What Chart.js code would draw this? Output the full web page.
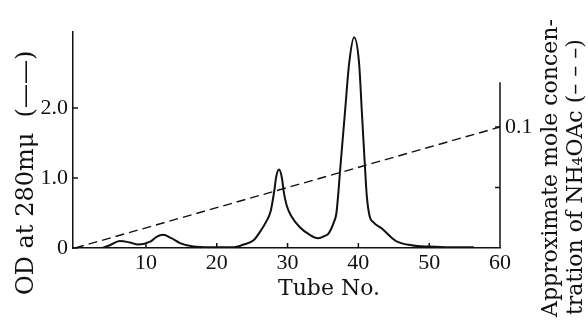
<!DOCTYPE html>
<html lang="en">
  <head>
    <meta charset="UTF-8" />
    <title>OD at 280 mμ - Tube No.</title>
    <script src="https://cdn.jsdelivr.net/npm/chart.js@4.4.1/dist/chart.umd.min.js"></script>
    <style>
      body {
        margin: 0;
        background: #fff;
      }

      .chart-box {
        width: 588px;
        height: 320px;
      }
    </style>
  </head>
  <body>
    <div class="chart-box">
      <canvas id="elution"></canvas>
    </div>

    <script>
      // OD at 280 mμ (tube no. / OD)
      const tubeNo = [3.8, 4.9, 6.3, 7.7, 8.9, 10.6, 11.5, 12.4, 13.6, 14.8, 16.7, 19, 22.3, 23.8, 25.2, 26.3, 27.0, 27.6, 28.1, 28.4, 28.8, 29.2, 29.5, 29.9, 30.5, 31.7, 33.1, 34.3, 35.2, 35.8, 36.5, 36.9, 37.5, 38.1, 38.7, 39.4, 40.1, 40.5, 40.9, 41.2, 41.6, 42.1, 43.4, 45.3, 47.5, 50, 53, 56.3];
      const od = [0, 0.04, 0.1, 0.08, 0.05, 0.09, 0.16, 0.19, 0.14, 0.07, 0.02, 0.01, 0.01, 0.05, 0.11, 0.26, 0.38, 0.52, 0.8, 1.02, 1.12, 1.0, 0.78, 0.6, 0.46, 0.3, 0.19, 0.14, 0.17, 0.21, 0.36, 0.5, 1.21, 1.93, 2.64, 3.01, 2.64, 1.93, 1.21, 0.73, 0.45, 0.37, 0.27, 0.1, 0.04, 0.02, 0.01, 0.01];

      // NH4OAc gradient (dashed)
      const saltTube = [0, 60];
      const saltConc = [0, 0.1];

      const xTicks = [10, 20, 30, 40, 50, 60];
      const odTicks = [0, 1, 2];
      const saltTicks = [0.05, 0.1];
      const saltAxisTop = 0.137;

      const ink = "#111";

      const toPoints = (xs, ys) => xs.map((v, i) => ({ x: v, y: ys[i] }));

      // inward tick marks, short right axis and the typeset titles
      const decor = {
        id: "decor",
        afterDraw(chart) {
          const { ctx, chartArea: a, scales } = chart;
          const { x, y, y2 } = scales;
          ctx.save();
          ctx.strokeStyle = ink;
          ctx.lineWidth = 1.5;
          ctx.beginPath();
          xTicks.forEach((v) => {
            const p = x.getPixelForValue(v);
            ctx.moveTo(p, a.bottom);
            ctx.lineTo(p, a.bottom - 5);
          });
          odTicks.forEach((v) => {
            const p = y.getPixelForValue(v);
            ctx.moveTo(a.left, p);
            ctx.lineTo(a.left + 5, p);
          });
          saltTicks.forEach((v) => {
            const p = y2.getPixelForValue(v);
            ctx.moveTo(a.right, p);
            ctx.lineTo(a.right - 5, p);
          });
          ctx.moveTo(a.right, a.bottom);
          ctx.lineTo(a.right, y2.getPixelForValue(saltAxisTop));
          ctx.stroke();

          ctx.fillStyle = ink;
          ctx.textBaseline = "alphabetic";

          ctx.font = "22px 'DejaVu Serif'";
          ctx.textAlign = "center";
          ctx.fillText("Tube No.", 329, 295);

          ctx.textAlign = "left";
          const vertical = (text, px, py, font) => {
            ctx.save();
            ctx.translate(px, py);
            ctx.rotate(-Math.PI / 2);
            ctx.font = font;
            ctx.fillText(text, 0, 0);
            ctx.restore();
          };
          vertical("OD at 280mμ  (——)", 33, 295, "24px 'DejaVu Serif'");
          vertical("Approximate mole concen-", 557, 317, "22px 'DejaVu Serif'");
          vertical("tration of NH₄OAc (– – –)", 582, 315, "22px 'DejaVu Serif'");
          ctx.restore();
        },
      };

      const tickFont = { family: "'Liberation Serif'", size: 22 };

      new Chart(document.getElementById("elution"), {
        type: "line",
        data: {
          datasets: [
            {
              label: "OD at 280 mμ",
              data: toPoints(tubeNo, od),
              yAxisID: "y",
              borderColor: ink,
              borderWidth: 2,
              pointRadius: 0,
              fill: false,
              cubicInterpolationMode: "monotone",
            },
            {
              label: "NH4OAc",
              data: toPoints(saltTube, saltConc),
              yAxisID: "y2",
              borderColor: ink,
              borderWidth: 1.4,
              borderDash: [9, 5],
              pointRadius: 0,
              fill: false,
            },
          ],
        },
        options: {
          responsive: true,
          maintainAspectRatio: false,
          animation: false,
          layout: { padding: { top: 32 } },
          plugins: {
            legend: { display: false },
            tooltip: { enabled: false },
          },
          scales: {
            x: {
              type: "linear",
              min: -0.3,
              max: 60,
              afterBuildTicks: (s) => (s.ticks = xTicks.map((v) => ({ value: v }))),
              afterFit: (s) => (s.height = 72),
              grid: { display: false, drawTicks: false },
              border: { display: true, color: ink, width: 1.5 },
              ticks: { color: ink, font: tickFont, padding: 2, maxRotation: 0 },
            },
            y: {
              position: "left",
              min: 0,
              max: 3.086,
              afterBuildTicks: (s) => (s.ticks = odTicks.map((v) => ({ value: v }))),
              afterFit: (s) => (s.width = 73),
              grid: { display: false, drawTicks: false },
              border: { display: true, color: ink, width: 1.5 },
              ticks: {
                color: ink,
                font: tickFont,
                padding: 5,
                callback: (v) => (v === 0 ? "0" : v.toFixed(1)),
              },
            },
            y2: {
              position: "right",
              min: 0,
              max: 0.1785,
              afterBuildTicks: (s) => (s.ticks = saltTicks.map((v) => ({ value: v }))),
              afterFit: (s) => (s.width = 88),
              grid: { display: false, drawTicks: false },
              border: { display: false },
              ticks: {
                color: ink,
                font: tickFont,
                padding: 5,
                callback: (v) => (v === 0.1 ? "0.1" : ""),
              },
            },
          },
        },
        plugins: [decor],
      });
    </script>
  </body>
</html>
